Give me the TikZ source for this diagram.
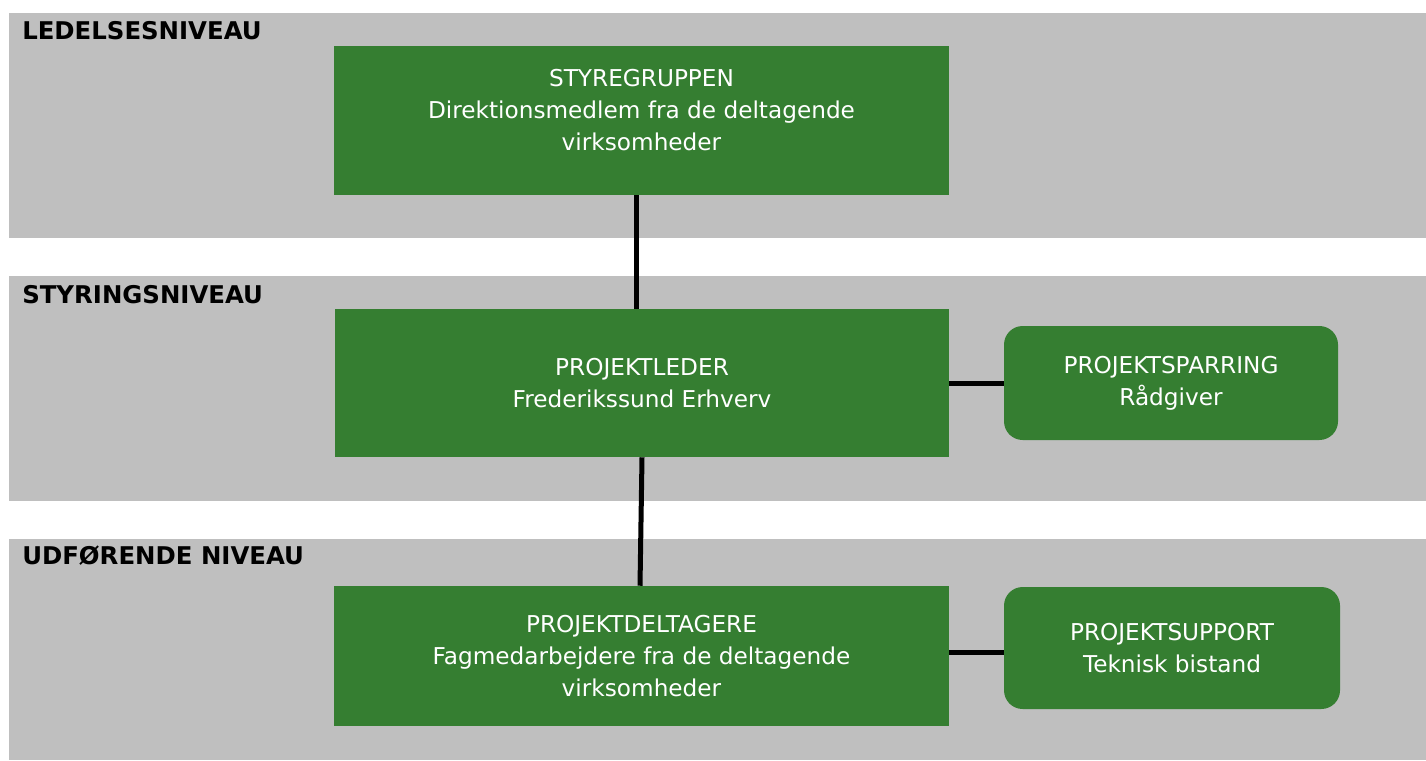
\documentclass[tikz,border=0pt]{standalone}
\usepackage{fontspec}
\setmainfont{DejaVu Sans}
\definecolor{band}{HTML}{BFBFBF}
\definecolor{boxgreen}{HTML}{357E31}
\tikzset{
  bandrect/.style={fill=band, draw=none},
  level/.style={anchor=west, font=\bfseries\fontsize{18.3}{21}\selectfont, text=black, inner sep=0pt},
  mainbox/.style={fill=boxgreen, draw=none, text=white, align=center, font=\fontsize{17.4}{24}\selectfont, inner sep=0pt},
  sidebox/.style={mainbox, rounded corners=14pt},
  link/.style={line width=3.75pt, black},
}
\begin{document}
\begin{tikzpicture}[x=0.75pt, y=-0.75pt]
\useasboundingbox (0,0) rectangle (1426,760);
\fill[band] (9,13) rectangle (1426,238);
\fill[band] (9,276) rectangle (1426,501);
\fill[band] (9,539) rectangle (1426,760);
\node[level] (l1) at (22,31) {LEDELSESNIVEAU};
\node[level] (l2) at (22,295) {STYRINGSNIVEAU};
\node[level] (l3) at (22,556) {UDFØRENDE NIVEAU};
\node[mainbox, minimum width=615*0.75pt, minimum height=149*0.75pt] (sg) at (641.5,120.5) {};
\node[text=white, align=center, font=\fontsize{17.4}{24}\selectfont, inner sep=0pt] (sgt) at (641.5,110.5) {STYREGRUPPEN\\Direktionsmedlem fra de deltagende\\virksomheder};
\node[mainbox, minimum width=614*0.75pt, minimum height=148*0.75pt] (pl) at (642,383) {PROJEKTLEDER\\Frederikssund Erhverv};
\node[sidebox, minimum width=334*0.75pt, minimum height=114*0.75pt] (ps) at (1171,383) {PROJEKTSPARRING\\Rådgiver};
\node[mainbox, minimum width=615*0.75pt, minimum height=140*0.75pt] (pd) at (641.5,656) {PROJEKTDELTAGERE\\Fagmedarbejdere fra de deltagende\\virksomheder};
\node[sidebox, minimum width=336*0.75pt, minimum height=122*0.75pt] (su) at (1172,648) {PROJEKTSUPPORT\\Teknisk bistand};
\draw[link] (sg.south -| 636,0) -- (pl.north -| 636,0);
\draw[link] (pl.south -| 642,0) -- (pd.north -| 640,0);
\draw[link] (pl.east) -- (ps.west);
\draw[link] (pd.east |- 0,652) -- (su.west |- 0,652);
\end{tikzpicture}
\end{document}
